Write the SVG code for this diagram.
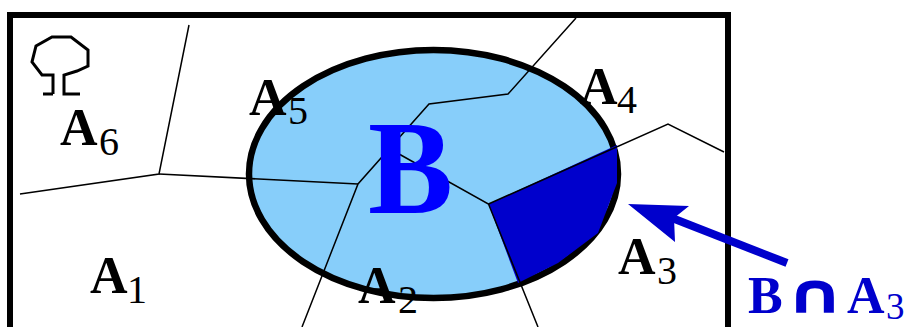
<svg xmlns="http://www.w3.org/2000/svg" width="906" height="327" viewBox="0 0 906 327">
<style>
.t{font-family:"Liberation Serif","Times New Roman",serif;fill:#000}
.a{font-size:52px;font-weight:bold}
.s{font-size:40px}
.c{fill:#0000cc}
.thin{fill:none;stroke:#000;stroke-width:1.5}
</style>
<rect width="906" height="327" fill="#fff"/>
<g id="frame"><rect x="10" y="15" width="718" height="340" fill="none" stroke="#000" stroke-width="6"/></g>
<g id="B-region">
<ellipse cx="433.500" cy="174" rx="184.500" ry="124" fill="#87cefa" stroke="#000" stroke-width="6.500"/>
<polygon points="488.500,204 617,145 617,183 598,233 558,263 518,283" fill="#0000cc"/>
</g>
<g id="connectors">
<polyline class="thin" points="189,25 159,174 20,194"/>
<polyline class="thin" points="159,174 358,184"/>
<polyline class="thin" points="576,18 508,94 429,104 358,184 302,327"/>
<polyline class="thin" points="399,154 488.500,204 538,327"/>
<polyline class="thin" points="488.500,204 668,124 724,152"/>
</g>
<g id="tree"><path d="M53,94H43M53,94V75L42,75L32,62L36,46L52,37H71L88,50V66L77,71L64,75V94H80" fill="none" stroke="#000" stroke-width="3"/></g>
<g id="label-B"><text class="t" x="368" y="213" font-size="134" font-weight="bold" style="fill:#0000ff" textLength="85" lengthAdjust="spacingAndGlyphs">B</text></g>
<g id="label-A1"><text class="t a" x="90" y="293">A</text><text class="t s" x="127" y="303">1</text></g>
<g id="label-A2"><text class="t a" x="358" y="303">A</text><text class="t s" x="398" y="313">2</text></g>
<g id="label-A3"><text class="t a" x="618" y="274">A</text><text class="t s" x="657" y="284">3</text></g>
<g id="label-A4"><text class="t a" x="580" y="104">A</text><text class="t s" x="617" y="113">4</text></g>
<g id="label-A5"><text class="t a" x="249" y="115">A</text><text class="t s" x="288" y="124">5</text></g>
<g id="label-A6"><text class="t a" x="60" y="145">A</text><text class="t s" x="99" y="155">6</text></g>
<g id="arrow"><path d="M787,263L672,218" stroke="#0000cc" stroke-width="8" fill="none"/><polygon class="c" points="628,204 689,206 674,218 675,242"/></g>
<g id="label-intersection">
<text class="t a" x="748" y="313" style="fill:#0000cc">B</text>
<text x="785" y="313" font-size="56" font-weight="bold" style="fill:#0000cc;font-family:'DejaVu Sans',sans-serif" textLength="60" lengthAdjust="spacingAndGlyphs">∩</text>
<text class="t a" x="847" y="313" style="fill:#0000cc">A</text>
<text class="t" x="886" y="319" font-size="37" style="fill:#0000cc">3</text>
</g>
</svg>
